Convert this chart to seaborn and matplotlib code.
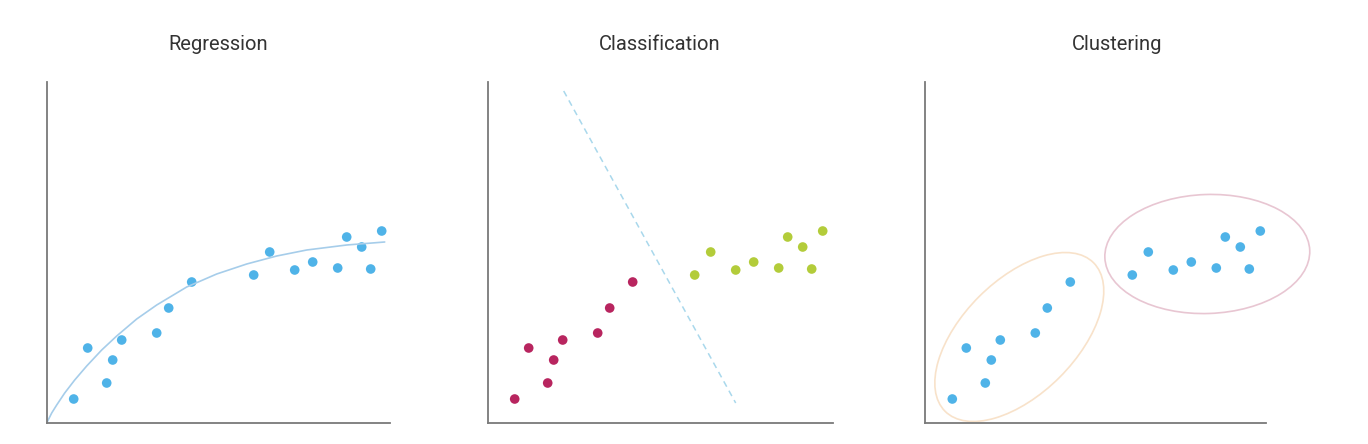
import matplotlib
matplotlib.use("Agg")
import matplotlib.pyplot as plt
from matplotlib.patches import Ellipse
import seaborn as sns
import pandas as pd

# data (pixel-ish units from each axis origin)
point_x = [27, 41, 60, 66, 75, 110, 122, 145, 207, 223, 248, 266, 291, 300, 315, 324, 335]
point_y = [24, 75, 40, 63, 83, 90, 115, 141, 148, 171, 153, 161, 155, 186, 176, 154, 192]
point_class = ["a"] * 8 + ["b"] * 9

# fitted regression curve, read at a few x positions
curve_x = [0, 5, 10, 18, 28, 40, 55, 70, 90, 110, 140, 170, 200, 230, 260, 300, 338]
curve_y = [0, 10, 18, 30, 43, 57, 73, 87, 104, 118, 136, 149, 159, 167, 173, 178, 181]

# decision boundary end points
boundary_x = [76, 248]
boundary_y = [332, 20]

titles = ["Regression", "Classification", "Clustering"]

df = pd.DataFrame({"x": point_x, "y": point_y, "cls": point_class})
curve = pd.DataFrame({"x": curve_x, "y": curve_y})
line = pd.DataFrame({"x": boundary_x, "y": boundary_y})

sns.set_style("white")
plt.rcParams["font.family"] = ["Roboto", "DejaVu Sans"]

blue = "#4fb3e8"
red = "#b8255f"
green = "#b3cc3a"
spine = "#7a7a7a"

fig = plt.figure(figsize=(13.68, 4.44), dpi=100)
W, H = 1368, 444
boxes = [(46.7, 343), (487.7, 345), (925.3, 341)]
axes = []
for left, width in boxes:
    ax = fig.add_axes([left / W, 21 / H, width / W, 341 / H])
    ax.set_xlim(0, width)
    ax.set_ylim(0, 341)
    for s in ["top", "right"]:
        ax.spines[s].set_visible(False)
    for s in ["left", "bottom"]:
        ax.spines[s].set_color(spine)
        ax.spines[s].set_linewidth(1.3)
    ax.set_xticks([])
    ax.set_yticks([])
    axes.append(ax)

# Regression
sns.lineplot(data=curve, x="x", y="y", ax=axes[0], color="#a6cdea", linewidth=1.2)
sns.scatterplot(data=df, x="x", y="y", ax=axes[0], color=blue, s=48, edgecolor="none")

# Classification
sns.lineplot(data=line, x="x", y="y", ax=axes[1], color="#a9d8ec", linewidth=1.1,
             linestyle=(0, (4, 3)))
sns.scatterplot(data=df, x="x", y="y", hue="cls", palette={"a": red, "b": green},
                ax=axes[1], s=48, edgecolor="none", legend=False)

# Clustering
axes[2].add_patch(Ellipse((94, 86), 210, 114, angle=45, fill=False,
                          edgecolor="#f8e2ca", linewidth=1.2, clip_on=False))
axes[2].add_patch(Ellipse((282, 169), 205, 119, angle=2, fill=False,
                          edgecolor="#e8c6d2", linewidth=1.2, clip_on=False))
sns.scatterplot(data=df, x="x", y="y", ax=axes[2], color=blue, s=48, edgecolor="none")

for ax in axes:
    ax.set_xlabel("")
    ax.set_ylabel("")

for cx, t in zip([218.5, 660, 1117], titles):
    fig.text(cx / W, 1 - 45 / H, t, ha="center", va="center", fontsize=14.5, color="#333333")

fig.savefig("out.png", dpi=100)
